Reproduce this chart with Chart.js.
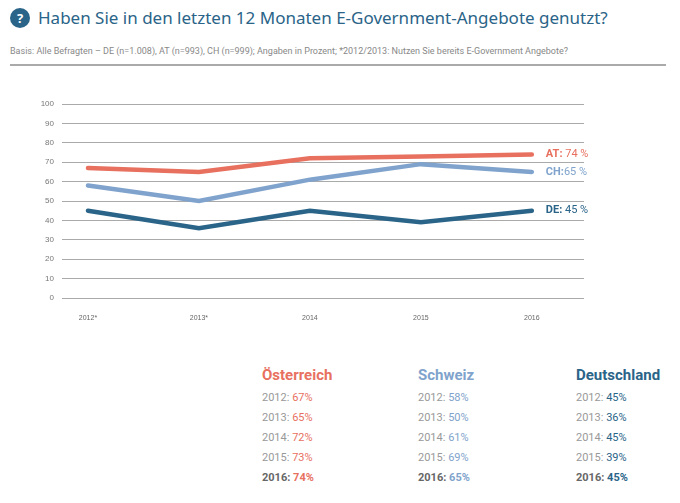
<!DOCTYPE html>
<html><head><meta charset="utf-8">
<script src="https://cdn.jsdelivr.net/npm/chart.js@4"></script>
<style>
body{margin:0;width:680px;height:503px;font-family:Roboto,sans-serif;background:#fff;position:relative;overflow:hidden}
#title{position:absolute;left:10px;top:6px;font-size:17px;color:#2a6488;font-family:"Noto Sans",sans-serif;display:flex;align-items:center}
#title .q{width:20px;height:20px;border-radius:50%;background:#2a6488;color:#fff;font-size:13px;font-weight:bold;text-align:center;line-height:20px;margin-right:8px}
#sub{position:absolute;left:10px;top:46px;font-size:9px;color:#888}
#rule{position:absolute;left:10px;width:656px;top:64px;border-top:2px solid #aaa}
#wrap{position:absolute;left:0;top:0;width:680px;height:340px}
.col{position:absolute;top:365px;font-size:11px;line-height:20px;color:#999}
.col h3{margin:0 0 3px 0;font-size:15px;font-weight:bold}
</style></head><body>
<div id="title"><span class="q">?</span>Haben Sie in den letzten 12 Monaten E-Government-Angebote genutzt?</div>
<div id="sub">Basis: Alle Befragten – DE (n=1.008), AT (n=993), CH (n=999); Angaben in Prozent; *2012/2013: Nutzen Sie bereits E-Government Angebote?</div>
<div id="rule"></div>
<div id="wrap"><canvas id="c"></canvas></div>
<div id="tables"></div>
<script>
const years = ['2012*', '2013*', '2014', '2015', '2016'];
const yearsPlain = ['2012', '2013', '2014', '2015', '2016'];
const at = [67, 65, 72, 73, 74];
const ch = [58, 50, 61, 69, 65];
const de = [45, 36, 45, 39, 45];
const yTicks = [0, 10, 20, 30, 40, 50, 60, 70, 80, 90, 100];

const series = [
  {name: 'Österreich', code: 'AT', data: at, color: '#e8705f', sep: ': ', x: 262},
  {name: 'Schweiz', code: 'CH', data: ch, color: '#7fa3cc', sep: ':', x: 418},
  {name: 'Deutschland', code: 'DE', data: de, color: '#2a6488', sep: ': ', x: 576}
];

const endLabels = {
  id: 'endLabels',
  afterDatasetsDraw(chart) {
    const ctx = chart.ctx;
    chart.data.datasets.forEach((ds, i) => {
      const p = chart.getDatasetMeta(i).data[ds.data.length - 1];
      const s = series[i];
      ctx.save();
      ctx.textBaseline = 'middle';
      ctx.font = 'bold 11px Roboto';
      ctx.fillStyle = s.color;
      const lab = s.code + s.sep;
      ctx.fillText(lab, p.x + 14, p.y);
      const w = ctx.measureText(lab).width;
      ctx.font = '11px Roboto';
      ctx.fillText(ds.data[ds.data.length - 1].y + ' %', p.x + 14 + w, p.y);
      ctx.restore();
    });
  }
};

new Chart(document.getElementById('c'), {
  type: 'line',
  data: {
    datasets: series.map(s => ({
      data: s.data.map((v, i) => ({x: i, y: v})),
      borderColor: s.color, borderWidth: 4.5, pointRadius: 0,
      borderCapStyle: 'round', tension: 0.0
    }))
  },
  options: {
    responsive: true, maintainAspectRatio: false, animation: false,
    layout: {padding: {top: 104, right: 96, left: 0, bottom: 0}},
    plugins: {legend: {display: false}, tooltip: {enabled: false}},
    scales: {
      x: {
        type: 'linear', min: -0.234, max: 4.47,
        afterBuildTicks: sc => { sc.ticks = years.map((_, i) => ({value: i})); },
        afterFit: sc => { sc.height = 42; },
        grid: {display: false}, border: {display: false},
        ticks: {callback: v => years[v], color: '#666', font: {size: 7}, maxRotation: 0, padding: 8}
      },
      y: {
        min: 0, max: 100,
        afterBuildTicks: sc => { sc.ticks = yTicks.map(v => ({value: v})); },
        afterFit: sc => { sc.width = 62; },
        grid: {color: '#aaa', drawTicks: false}, border: {display: false},
        ticks: {color: '#777', font: {size: 8}, padding: 8}
      }
    }
  },
  plugins: [endLabels]
});

let html = '';
series.forEach(s => {
  html += '<div class="col" style="left:' + s.x + 'px"><h3 style="color:' + s.color + '">' + s.name + '</h3>';
  s.data.forEach((v, i) => {
    const last = i === s.data.length - 1;
    html += '<div' + (last ? ' style="font-weight:bold;color:#666"' : '') + '>' + yearsPlain[i] + ': <span style="color:' + s.color + '">' + v + '%</span></div>';
  });
  html += '</div>';
});
document.getElementById('tables').innerHTML = html;
</script>
</body></html>
